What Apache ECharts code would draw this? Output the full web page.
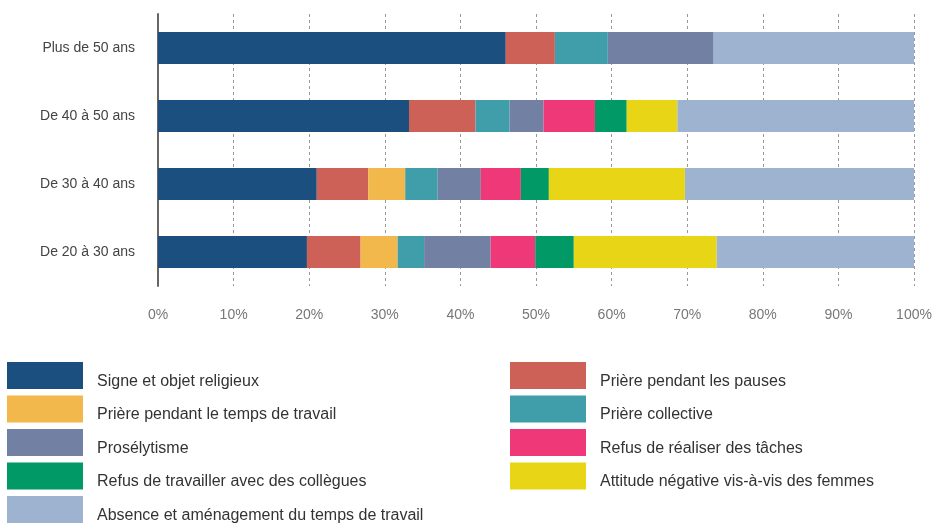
<!DOCTYPE html>
<html>
<head>
<meta charset="utf-8">
<script src="https://cdn.jsdelivr.net/npm/echarts@6/dist/echarts.min.js"></script>
<style>
  html, body { margin: 0; padding: 0; background: #fff; }
  #chart { width: 937px; height: 525px; }
</style>
</head>
<body>
<div id="chart"></div>
<script>
// tranches d'âge (de bas en haut)
var ages = ['De 20 à 30 ans', 'De 30 à 40 ans', 'De 40 à 50 ans', 'Plus de 50 ans'];
var xTicks = [0, 10, 20, 30, 40, 50, 60, 70, 80, 90, 100];

// valeurs en % par tranche d'âge (même ordre que ages)
var signe = [19.7, 21.0, 33.2, 46.0];
var prierePauses = [7.1, 6.8, 8.8, 6.5];
var priereTemps = [4.9, 4.9, 0, 0];
var priereCollective = [3.5, 4.3, 4.5, 7.0];
var proselytisme = [8.8, 5.7, 4.5, 14.0];
var refusTaches = [5.9, 5.3, 6.8, 0];
var refusCollegues = [5.1, 3.7, 4.2, 0];
var attitudeFemmes = [18.9, 18.0, 6.7, 0];
var absence = [26.1, 30.3, 31.3, 26.5];

var chart = echarts.init(document.getElementById('chart'));

var font = '"Liberation Sans", Arial, sans-serif';

function bar(name, color, data) {
  return {
    name: name,
    type: 'bar',
    stack: 'total',
    barWidth: 32,
    itemStyle: { color: color },
    emphasis: { disabled: true },
    data: data
  };
}

// légende sur deux colonnes
var legendCommon = {
  orient: 'vertical',
  top: 357,
  height: 220,
  itemWidth: 76,
  itemHeight: 27,
  itemGap: 6,
  icon: 'rect',
  selectedMode: false,
  formatter: '{t|{name}}',
  textStyle: {
    color: '#333',
    fontSize: 16,
    fontFamily: font,
    rich: {
      t: { color: '#333', fontSize: 16, fontFamily: font, padding: [12, 0, 0, 9] }
    }
  }
};

var option = {
  animation: false,
  grid: {
    left: 158,
    right: 23,
    top: 14,
    height: 272
  },
  legend: [
    Object.assign({}, legendCommon, {
      left: 2,
      data: ['Signe et objet religieux', 'Prière pendant le temps de travail', 'Prosélytisme',
        'Refus de travailler avec des collègues', 'Absence et aménagement du temps de travail']
    }),
    Object.assign({}, legendCommon, {
      left: 505,
      data: ['Prière pendant les pauses', 'Prière collective', 'Refus de réaliser des tâches',
        'Attitude négative vis-à-vis des femmes']
    })
  ],
  xAxis: {
    type: 'value',
    min: xTicks[0],
    max: xTicks[xTicks.length - 1],
    interval: 10,
    axisLine: { show: false },
    axisTick: { show: false },
    axisLabel: {
      color: '#777',
      fontSize: 14,
      fontFamily: font,
      margin: 22,
      formatter: '{value}%'
    },
    splitLine: {
      show: true,
      lineStyle: { color: '#999', type: [3, 3], width: 1 }
    }
  },
  yAxis: {
    type: 'category',
    data: ages,
    axisLine: { show: true, lineStyle: { color: '#666', width: 2 } },
    axisTick: { show: false },
    axisLabel: {
      color: '#444',
      fontSize: 14,
      fontFamily: font,
      margin: 23
    }
  },
  series: [
    bar('Signe et objet religieux', '#1b4f80', signe),
    bar('Prière pendant les pauses', '#cd6158', prierePauses),
    bar('Prière pendant le temps de travail', '#f2b84b', priereTemps),
    bar('Prière collective', '#3f9ea9', priereCollective),
    bar('Prosélytisme', '#7280a4', proselytisme),
    bar('Refus de réaliser des tâches', '#ef3878', refusTaches),
    bar('Refus de travailler avec des collègues', '#019966', refusCollegues),
    bar('Attitude négative vis-à-vis des femmes', '#e8d515', attitudeFemmes),
    bar('Absence et aménagement du temps de travail', '#9db3cf', absence)
  ]
};

chart.setOption(option);
</script>
</body>
</html>
